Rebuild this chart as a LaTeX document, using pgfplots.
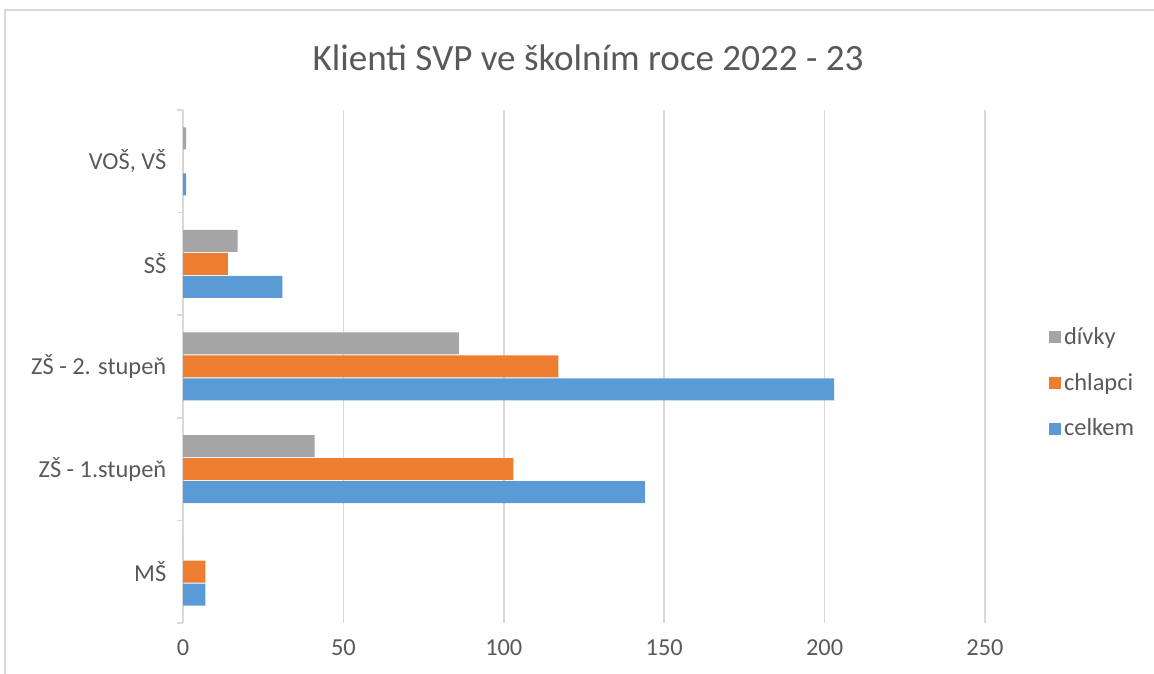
\documentclass[border=0pt]{standalone}
\usepackage{fontspec}
\setmainfont{Carlito}
\usepackage{pgfplots}
\pgfplotsset{compat=1.18}
\definecolor{cel}{HTML}{5B9BD5}
\definecolor{chl}{HTML}{ED7D31}
\definecolor{div}{HTML}{A5A5A5}
\definecolor{gridc}{HTML}{D9D9D9}
\definecolor{txt}{HTML}{595959}
\begin{document}
\begin{tikzpicture}
\path[use as bounding box] (0,0) rectangle (865.5pt,505.5pt);
\draw[color=gridc, line width=1.1pt] (3.75pt,0) -- (3.75pt,498pt) -- (865.5pt,498pt);
\begin{axis}[
  at={(137.25pt,38.25pt)}, anchor=south west,
  scale only axis, width=601.5pt, height=384.75pt,
  xbar, bar width=16.5pt,
  xmin=0, xmax=250, ymin=-0.5, ymax=4.5,
  xtick={0,50,...,250}, ytick={0,...,4},
  yticklabels={MŠ, ZŠ - 1.stupeň, ZŠ - 2. stupeň, SŠ, {VOŠ, VŠ}},
  minor ytick={-0.5,0.5,...,4.5},
  axis lines*=left,
  x axis line style={draw=none},
  y axis line style={color=gridc, line width=1.1pt},
  major tick length=0pt,
  minor tick length=4.5pt,
  tick align=outside,
  minor tick style={color=gridc, line width=1.1pt},
  xmajorgrids,
  major grid style={color=gridc, line width=1.1pt},
  /pgf/number format/assume math mode=true,
  ticklabel style={font=\fontsize{18.3}{21}\selectfont, text=txt},
  xticklabel style={yshift=-9pt},
  yticklabel style={xshift=-9pt},
  title={Klienti SVP ve školním roce 2022 - 23},
  title style={at={(0.505,1.086)}, anchor=center, font=\fontsize{27.8}{32}\selectfont, text=txt},
  reverse legend,
  legend cell align=left,
  legend style={at={(1.075,0.468)}, anchor=west, draw=none, fill=none,
    font=\fontsize{18.3}{21}\selectfont, text=txt, row sep=16pt,
    /tikz/every even column/.append style={column sep=4pt}},
  legend image code/.code={\fill[#1] (0pt,-4.5pt) rectangle (9pt,4.5pt);},
]
\addplot[fill=cel, draw=none, bar shift=-17.25pt] coordinates {(7,0) (144,1) (203,2) (31,3) (1,4)};
\addlegendentry{celkem}
\addplot[fill=chl, draw=none, bar shift=0pt] coordinates {(7,0) (103,1) (117,2) (14,3) (0,4)};
\addlegendentry{chlapci}
\addplot[fill=div, draw=none, bar shift=17.25pt] coordinates {(0,0) (41,1) (86,2) (17,3) (1,4)};
\addlegendentry{dívky}
\end{axis}
\end{tikzpicture}
\end{document}
